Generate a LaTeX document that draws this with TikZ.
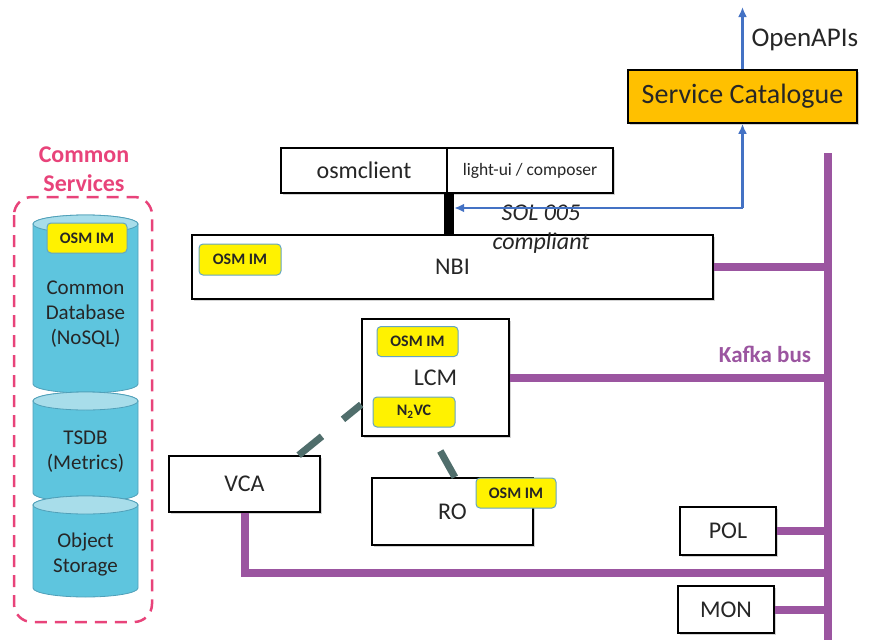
\documentclass[tikz,border=0pt]{standalone}
\usepackage{fontspec}
\setmainfont{Carlito}
\usetikzlibrary{shadows,arrows.meta}
\definecolor{kafka}{RGB}{155,85,160}
\definecolor{csred}{RGB}{232,67,122}
\definecolor{cylbody}{RGB}{94,197,222}
\definecolor{cyltop}{RGB}{168,221,234}
\definecolor{cyledge}{RGB}{80,160,185}
\definecolor{apiblue}{RGB}{68,114,196}
\definecolor{badgeedge}{RGB}{100,165,195}
\definecolor{catalog}{RGB}{255,192,0}
\definecolor{linkgrey}{RGB}{80,110,108}
\definecolor{txt}{RGB}{38,38,38}
\begin{document}
\begin{tikzpicture}[x=1pt, y=-1pt,
	module/.style = {draw, line width=1.6pt, fill=white, text=txt, inner sep=0pt,
		font=\fontsize{24}{28}\selectfont,
		drop shadow={shadow xshift=2pt, shadow yshift=-2pt, opacity=0.35}},
	badge/.style = {draw=badgeedge, line width=1pt, fill=yellow, rounded corners=4pt,
		text=txt, inner sep=0pt, minimum width=81pt, minimum height=30pt,
		font=\bfseries\fontsize{16}{18}\selectfont},
	bus/.style = {kafka, line width=8pt},
	api/.style = {apiblue, line width=2.5pt, -{Latex[length=10pt, width=9pt]}},
	link/.style = {linkgrey, line width=7pt, dash pattern=on 30pt off 27pt},
	cyl/.style = {fill=cylbody, draw=cyledge, line width=0.8pt},
	cyllid/.style = {fill=cyltop, draw=cyledge, line width=0.8pt},
	cyltext/.style = {text=txt, align=center, font=\fontsize{21}{25}\selectfont}]
	\useasboundingbox (0,0) rectangle (870,640);

	% common services
	\node [text=csred, align=center, font=\bfseries\fontsize{24}{29}\selectfont] (cslabel) at (84,169) {Common\\Services};
	\draw [csred, line width=2.5pt, dash pattern=on 12pt off 8pt, rounded corners=18pt] (14,197) rectangle (152,622);
	\foreach \top/\bot in {224/384, 401/493, 505/588} {
		\draw [cyl] (33,\top) -- (33,\bot) arc [start angle=180, end angle=360, x radius=52.5pt, y radius=9pt]
			-- (138,\top) arc [start angle=0, end angle=180, x radius=52.5pt, y radius=9pt] -- cycle;
		\draw [cyllid] (85.5,\top) ellipse [x radius=52.5pt, y radius=9pt];
	}
	\node [badge, minimum width=80pt] (dbim) at (87,238) {OSM IM};
	\node [cyltext] (dbtext) at (85.5,314) {Common\\Database\\(NoSQL)};
	\node [cyltext] (tsdbtext) at (85.5,452) {TSDB\\(Metrics)};
	\node [cyltext] (objtext) at (85.5,555) {Object\\Storage};

	% kafka bus
	\coordinate (bustop) at (828,153);
	\coordinate (busend) at (828,640);
	\draw [bus] (bustop) -- (busend);
	\node [text=kafka, font=\bfseries\fontsize{23}{26}\selectfont] (kafkalabel) at (765,354) {Kafka bus};

	% north side
	\node [module, minimum width=166pt, minimum height=45pt] (osmclient) at (364,170.5) {osmclient};
	\node [module, minimum width=166pt, minimum height=45pt, font=\fontsize{17.5}{20}\selectfont] (lightui) at (530,170.5) {light-ui / composer};
	\node [fill=black, inner sep=0pt, minimum width=10pt, minimum height=42pt] (bar) at (449,214) {};
	\node [module, minimum width=521pt, minimum height=64pt] (nbi) at (452.5,267) {NBI};
	\node [badge, minimum width=82pt, minimum height=31pt] (nbiim) at (240,259.5) {OSM IM};
	\node [text=txt, align=center, font=\itshape\fontsize{24}{29}\selectfont] (sol) at (541,229) {SOL 005\\compliant};
	\node [module, fill=catalog, minimum width=229pt, minimum height=53pt, font=\fontsize{28}{30}\selectfont] (catalogue) at (742.5,96.5) {Service Catalogue};
	\node [text=txt, anchor=west, font=\fontsize{27}{30}\selectfont] (openapis) at (748,40) {OpenAPIs};
	\coordinate (apiout) at (742.5,7);
	\coordinate (split) at (742.5,208);
	\draw [api] (catalogue.north) -- (apiout);
	\draw [api] (split) -- (catalogue.south);
	\draw [api] (split) -- (split -| bar.east);

	% lcm, ro, vca
	\node [module, minimum width=147pt, minimum height=117pt] (lcm) at (435.5,377.5) {LCM};
	\node [badge] (lcmim) at (417.5,341.5) {OSM IM};
	\node [badge, minimum width=82pt] (n2vc) at (414,412) {N\textsubscript{2}VC};
	\node [module, minimum width=151pt, minimum height=56pt] (vca) at (244.5,484) {VCA};
	\node [module, minimum width=161pt, minimum height=67pt] (ro) at (452.5,511.5) {RO};
	\node [badge, minimum width=80pt] (roim) at (516,493) {OSM IM};
	\draw [link] (vca.28) -- (lcm.200);
	\draw [link] (ro.86) -- (lcm.267);

	% pol, mon
	\node [module, minimum width=96pt, minimum height=48pt] (pol) at (728,531) {POL};
	\node [module, minimum width=96pt, minimum height=47pt] (mon) at (726,609.5) {MON};

	% bus connections
	\coordinate (vcajoin) at (828,573);
	\draw [bus] (nbi.east) -- (nbi.east -| bustop);
	\draw [bus] (lcm.east) -- (lcm.east -| bustop);
	\draw [bus] (pol.east) -- (pol.east -| bustop);
	\draw [bus] (mon.east) -- (mon.east -| bustop);
	\draw [bus] (vca.south) |- (vcajoin);
\end{tikzpicture}
\end{document}
